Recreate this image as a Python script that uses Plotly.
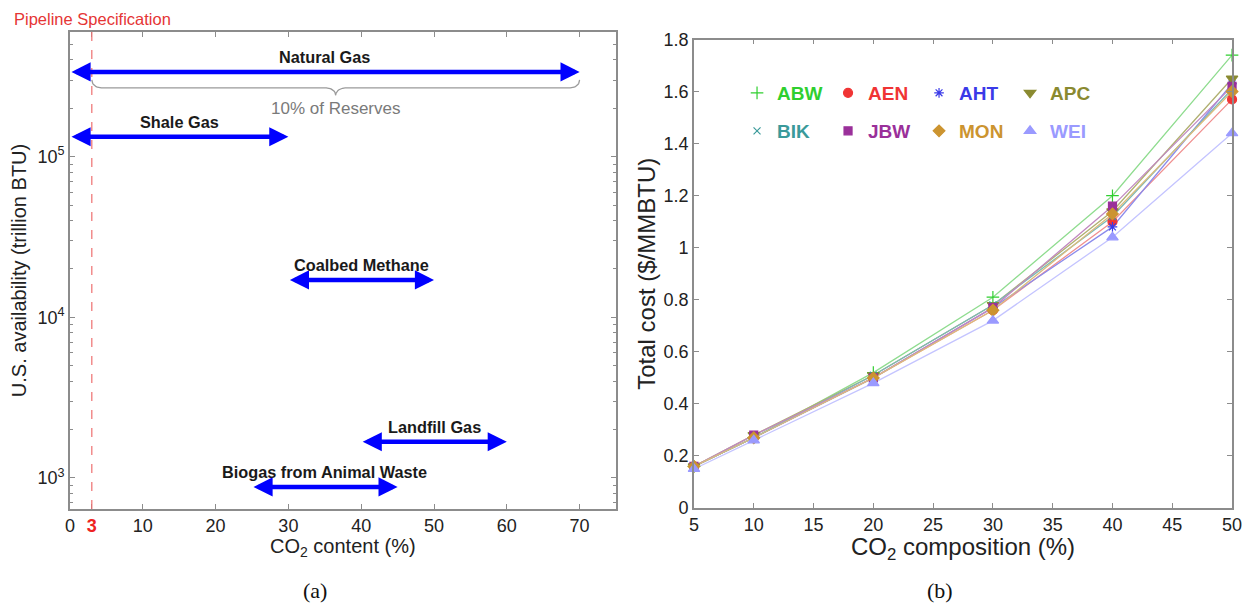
import numpy as np
import plotly.graph_objects as go

# ---------- panel (a): CO2 content ranges of U.S. gas resources ----------
sources = ["Natural Gas", "Shale Gas", "Coalbed Methane", "Landfill Gas", "Biogas from Animal Waste"]
co2_low = [0, 0, 30, 40, 25]          # % CO2, lower end
co2_high = [70, 30, 50, 60, 45]       # % CO2, upper end
availability = [3.37e5, 1.33e5, 1.71e4, 1.68e3, 8.8e2]  # trillion BTU
pipeline_spec = 3                     # % CO2 allowed in pipelines
reserves_low, reserves_high = 3, 70   # span bracketed as "10% of Reserves"
xa_ticks = [0, 3, 10, 20, 30, 40, 50, 60, 70]

# ---------- panel (b): total cost vs CO2 composition ----------
co2_pct = [5, 10, 20, 30, 40, 50]
abw = [0.16, 0.27, 0.52, 0.81, 1.20, 1.74]
aen = [0.16, 0.27, 0.50, 0.76, 1.10, 1.57]
aht = [0.16, 0.27, 0.50, 0.77, 1.08, 1.63]
apc = [0.16, 0.28, 0.51, 0.78, 1.14, 1.65]
bik = [0.16, 0.27, 0.51, 0.78, 1.12, 1.61]
jbw = [0.16, 0.28, 0.50, 0.77, 1.16, 1.62]
mon = [0.16, 0.27, 0.50, 0.76, 1.13, 1.60]
wei = [0.15, 0.26, 0.48, 0.72, 1.04, 1.44]
series_names = ["ABW", "AEN", "AHT", "APC", "BIK", "JBW", "MON", "WEI"]
series_values = [abw, aen, aht, apc, bik, jbw, mon, wei]

# styling per series: (marker color, line color, symbol, marker size)
styles = {
    "ABW": ("#2fcf2f", "#8fdc8f", "cross-thin", 9),
    "AEN": ("#f03434", "#f09090", "circle", 9),
    "AHT": ("#3a3ae8", "#8c8cec", "asterisk", 8),
    "APC": ("#8a8a30", "#b0b070", "triangle-down", 10),
    "BIK": ("#3a9a9a", "#7ab8b8", "x-thin", 7),
    "JBW": ("#9a309a", "#c088c0", "square", 8),
    "MON": ("#cc9430", "#dcbc7c", "diamond", 9),
    "WEI": ("#9a9aff", "#c4c4ff", "triangle-up", 10),
}

FONT = "Liberation Sans, Arial, sans-serif"
SERIF = "Liberation Serif, Times New Roman, serif"
AXIS_GREY = "#8c8c8c"

# panel placement on the page (paper fractions)
XA_DOM, YA_DOM = [0.0562, 0.4948], [0.1587, 0.9471]
XB_DOM, YB_DOM = [0.5574, 0.9896], [0.1603, 0.9347]

fig = go.Figure()
notes = []

# ---------- panel (a) ----------
# CO2-content ranges as double-headed arrows
for name, lo, hi, av in zip(sources, co2_low, co2_high, availability):
    ly = np.log10(av)
    notes.append(dict(
        x=hi, y=ly, ax=lo, ay=ly, xref="x", yref="y", axref="x", ayref="y",
        text="", showarrow=True, arrowside="end+start",
        arrowhead=2, startarrowhead=2, arrowsize=0.85, startarrowsize=0.85,
        arrowwidth=4.5, arrowcolor="#0000ff", standoff=0, startstandoff=0,
    ))
    notes.append(dict(
        x=(lo + hi) / 2, y=ly, xref="x", yref="y", yshift=15,
        text=f"<b>{name}</b>", showarrow=False,
        font=dict(family=FONT, size=16.3, color="#1a1a1a"),
    ))

# curly bracket under the natural-gas range
ng = availability[0]
top, mid, tip = 0.05, 0.10, 0.145   # offsets below the arrow, in decades
r = 1.3
t = np.linspace(0, np.pi / 2, 12)
xm = (reserves_low + reserves_high) / 2
bx = np.concatenate([
    reserves_low + r * (1 - np.cos(t)),
    xm - r + r * np.sin(t),
    xm + r - r * np.sin(t[::-1]),
    reserves_high - r * (1 - np.cos(t[::-1])),
])
bly = np.concatenate([
    -top - (mid - top) * np.sin(t),
    -mid - (tip - mid) * (1 - np.cos(t)),
    -mid - (tip - mid) * (1 - np.cos(t[::-1])),
    -top - (mid - top) * np.sin(t[::-1]),
])
fig.add_trace(go.Scatter(
    x=bx, y=ng * 10 ** bly, mode="lines", xaxis="x", yaxis="y",
    line=dict(color="#9a9a9a", width=1.3), showlegend=False, hoverinfo="skip",
))
notes.append(dict(
    x=xm, y=np.log10(ng), xref="x", yref="y", yshift=-37,
    text="10% of Reserves", showarrow=False,
    font=dict(family=FONT, size=17, color="#7a7a7a"),
))

# pipeline specification line
fig.add_shape(type="line", xref="x", yref="y domain", x0=pipeline_spec, x1=pipeline_spec,
              y0=0, y1=1, line=dict(color="#ee7070", width=1.2, dash="dash"))

# ---------- panel (b) ----------
for name, vals in zip(series_names, series_values):
    mc, lc, sym, ms = styles[name]
    fig.add_trace(go.Scatter(
        x=co2_pct, y=vals, mode="lines", xaxis="x2", yaxis="y2",
        line=dict(color=lc, width=1.3), showlegend=False, cliponaxis=False,
    ))
row1 = ["ABW", "AEN", "AHT", "APC"]
for name, vals in zip(series_names, series_values):
    mc, lc, sym, ms = styles[name]
    fig.add_trace(go.Scatter(
        x=co2_pct, y=vals, mode="markers", xaxis="x2", yaxis="y2",
        name=f"<span style='color:{mc}'><b>{name}</b></span>",
        marker=dict(color=mc, symbol=sym, size=ms, line=dict(color=mc, width=1.2)),
        cliponaxis=False,
        legend="legend" if name in row1 else "legend2",
    ))

tick_font = dict(family=FONT, size=18, color="#222222")
title_font_a = dict(family=FONT, size=20, color="#222222")
title_font_b = dict(family=FONT, size=24, color="#222222")
axis_common = dict(
    showline=True, linecolor=AXIS_GREY, linewidth=1.5, mirror="ticks",
    ticks="inside", ticklen=5, tickcolor=AXIS_GREY, tickwidth=1.2,
    showgrid=False, zeroline=False, tickfont=tick_font, automargin=False,
)

xa_text = [f"<span style='color:#ee2222'><b>{v}</b></span>" if v == pipeline_spec else str(v)
           for v in xa_ticks]
decades = [1e3, 1e4, 1e5]
minor_vals = [m * d for d in [1e2, 1e3, 1e4, 1e5] for m in range(2, 10)]

legend_common = dict(
    orientation="h", bgcolor="rgba(0,0,0,0)", font=dict(family=FONT, size=19),
    entrywidth=46, itemsizing="trace", xanchor="left", yanchor="middle",
    itemclick=False, itemdoubleclick=False, tracegroupgap=0,
)

notes += [
    # x-axis titles, placed just under the tick labels
    dict(text="CO<sub>2</sub> content (%)", xref="paper", yref="paper",
         x=sum(XA_DOM) / 2, y=1 - 547 / 605, xanchor="center", yanchor="middle",
         showarrow=False, font=title_font_a),
    dict(text="CO<sub>2</sub> composition (%)", xref="paper", yref="paper",
         x=sum(XB_DOM) / 2, y=1 - 548 / 605, xanchor="center", yanchor="middle",
         showarrow=False, font=title_font_b),
    dict(text="Pipeline Specification", xref="paper", yref="paper", x=0.0096, y=1 - 19 / 605,
         xanchor="left", yanchor="middle", showarrow=False,
         font=dict(family=FONT, size=16.5, color="#e53535")),
    dict(text="(a)", xref="paper", yref="paper", x=315 / 1245, y=1 - 590 / 605,
         xanchor="center", yanchor="middle",
         showarrow=False, font=dict(family=SERIF, size=22, color="#111")),
    dict(text="(b)", xref="paper", yref="paper", x=940 / 1245, y=1 - 590 / 605,
         xanchor="center", yanchor="middle",
         showarrow=False, font=dict(family=SERIF, size=22, color="#111")),
]

fig.update_layout(
    template="none",
    width=1245, height=605,
    margin=dict(l=0, r=0, t=0, b=0, autoexpand=False),
    paper_bgcolor="white", plot_bgcolor="white",
    xaxis=dict(domain=XA_DOM, range=[0, 75], tickvals=xa_ticks, ticktext=xa_text,
               anchor="y", **axis_common),
    yaxis=dict(domain=YA_DOM, type="log", range=[2.807, 5.776], anchor="x",
               tickvals=decades, ticktext=["10<sup>3</sup>", "10<sup>4</sup>", "10<sup>5</sup>"],
               minor=dict(tickvals=minor_vals, ticks="inside", ticklen=3, tickcolor=AXIS_GREY),
               title=dict(text="U.S. availability (trillion BTU)", font=title_font_a, standoff=6),
               **axis_common),
    xaxis2=dict(domain=XB_DOM, range=[5, 50], tick0=5, dtick=5, anchor="y2", **axis_common),
    yaxis2=dict(domain=YB_DOM, range=[0, 1.8], dtick=0.2, anchor="x2",
                title=dict(text="Total cost ($/MMBTU)", font=title_font_b, standoff=1),
                **axis_common),
    legend=dict(x=0.592, y=1 - 93 / 605, **legend_common),
    legend2=dict(x=0.592, y=1 - 131 / 605, **legend_common),
    annotations=notes,
)

fig.write_html("out.html")
